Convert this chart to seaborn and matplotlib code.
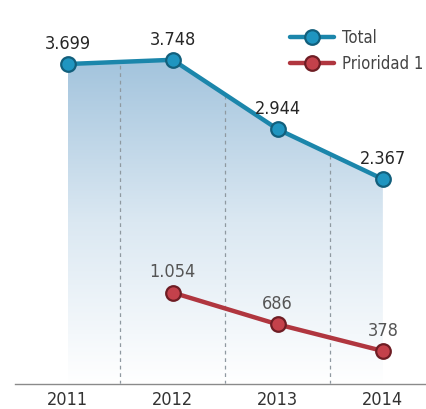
import numpy as np
import pandas as pd
import matplotlib
matplotlib.use("Agg")
import matplotlib.pyplot as plt
import seaborn as sns
from matplotlib.colors import LinearSegmentedColormap
from matplotlib.lines import Line2D

years = [2011, 2012, 2013, 2014]
total = [3699, 3748, 2944, 2367]
prio_years = [2012, 2013, 2014]
prioridad = [1054, 686, 378]
tick_labels = ["2011", "2012", "2013", "2014"]
series_names = ["Total", "Prioridad 1"]

sns.set_style("white")
plt.rcParams['font.family'] = ['DejaVu Sans']
plt.rcParams['font.stretch'] = 'condensed'

fig = plt.figure(figsize=(4.27, 4.09), dpi=100)
ax = fig.add_axes([0.035, 0.062, 0.965, 0.938])

blue = "#1b86ab"
blue_face = "#1f95c0"
red = "#b0363f"
red_face = "#c4414b"

# gradient area under Total
poly = ax.fill_between(years, total, 0, color="none", lw=0)
cmap = LinearSegmentedColormap.from_list("g", ["#ffffff", "#dbe8f2", "#a3c4dd"])
grad = np.linspace(0, 1, 256).reshape(-1, 1)
im = ax.imshow(grad, cmap=cmap, origin="lower", aspect="auto",
               extent=[years[0], years[-1], 0, max(total)], zorder=1)
path = poly.get_paths()[0]
im.set_clip_path(path, transform=ax.transData)

# dashed separators between years, only inside the area
for y0 in years[:-1]:
    ln = ax.axvline(y0 + 0.5, color="#8f99a0", lw=0.9, ls=(0, (3, 3)), zorder=1.5)
    ln.set_clip_path(path, transform=ax.transData)

df_t = pd.DataFrame({"year": years, "v": total})
df_p = pd.DataFrame({"year": prio_years, "v": prioridad})
sns.lineplot(data=df_t, x="year", y="v", ax=ax, color=blue, lw=3.2,
             marker="o", markersize=10.5, markerfacecolor=blue_face,
             markeredgecolor="#125f7c", markeredgewidth=1.6, zorder=3)
sns.lineplot(data=df_p, x="year", y="v", ax=ax, color=red, lw=3.2,
             marker="o", markersize=10.5, markerfacecolor=red_face,
             markeredgecolor="#6e1d24", markeredgewidth=1.6, zorder=3)

def fmt(v):
    return f"{v:,}".replace(",", ".")

for x, v in zip(years, total):
    ax.annotate(fmt(v), (x, v), xytext=(0, 8), textcoords="offset points",
                ha="center", va="bottom", fontsize=13, color="#262626",
                fontweight="medium", zorder=4)
for x, v in zip(prio_years, prioridad):
    ax.annotate(fmt(v), (x, v), xytext=(0, 8), textcoords="offset points",
                ha="center", va="bottom", fontsize=13, color="#555555", zorder=4)

ax.set_xlim(2010.5, 2014.42)
ax.set_ylim(0, 4440)
ax.set_xticks(years)
ax.set_xticklabels(tick_labels, fontsize=13, color="#333333")
ax.set_yticks([])
ax.set_xlabel("")
ax.set_ylabel("")
ax.tick_params(axis="x", length=0, pad=5)
for s in ["top", "right", "left"]:
    ax.spines[s].set_visible(False)
ax.spines["bottom"].set_color("#8a8a8a")
ax.spines["bottom"].set_linewidth(1.0)

handles = [
    Line2D([], [], color=blue, lw=3.2, marker="o", markersize=10.5,
           markerfacecolor=blue_face, markeredgecolor="#125f7c", markeredgewidth=1.6),
    Line2D([], [], color=red, lw=3.2, marker="o", markersize=10.5,
           markerfacecolor=red_face, markeredgecolor="#6e1d24", markeredgewidth=1.6),
]
leg = fig.legend(handles, series_names, loc="upper left",
                 bbox_to_anchor=(0.645, 0.965), frameon=False,
                 fontsize=12, handlelength=2.6, handletextpad=0.5,
                 labelspacing=0.45, labelcolor="#444444")

fig.savefig("out.png", dpi=100)
